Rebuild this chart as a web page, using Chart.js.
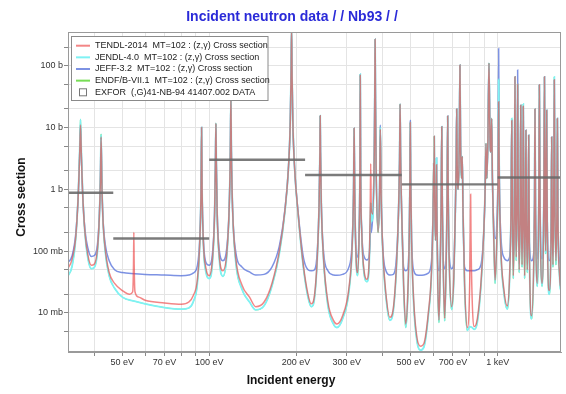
<!DOCTYPE html>
<html>
<head>
<meta charset="utf-8">
<script src="https://cdn.jsdelivr.net/npm/chart.js@4.4.1/dist/chart.umd.min.js"></script>
<style>
    body { margin: 0; background: #fff; }
</style>
</head>
<body>
<canvas id="myChart" width="566" height="394"></canvas>
<script>
// energies in eV, cross sections in barns
const tendl = [
    [31, 0.048], [32.4, 0.053], [33.5, 0.075], [34.5, 0.18], [35.2, 0.9], [35.55, 3.5], [35.8, 11], [36.05, 3.5], [36.4, 0.9], [37.1, 0.2], [38, 0.085], [39, 0.059], [40, 0.062], [41, 0.11], [41.6, 0.35], [41.95, 1.3], [42.2, 7], [42.45, 1.3], [42.8, 0.35], [43.6, 0.11], [45, 0.045], [47, 0.03], [50, 0.023], [53, 0.02], [54.3, 0.022], [54.65, 0.06], [54.8, 0.2], [54.95, 0.06], [55.3, 0.022], [57, 0.018], [60, 0.016], [70, 0.0145], [80, 0.0138], [85, 0.015], [88, 0.019], [91, 0.035], [92.8, 0.15], [93.7, 1.0], [94.1, 10], [94.5, 1.0], [95.4, 0.15], [97.5, 0.052], [100, 0.04], [102.5, 0.07], [104.4, 0.4], [105.1, 2.5], [105.5, 11.6], [105.9, 2.5], [106.6, 0.4], [108.5, 0.08], [111.5, 0.048], [115, 0.09], [117.3, 0.5], [118.4, 4], [118.9, 30], [119.4, 4], [120.5, 0.5], [123.5, 0.08], [130, 0.028], [138, 0.018], [145, 0.0126], [155, 0.015], [165, 0.03], [175, 0.1], [183, 0.45], [188, 2], [191, 12], [192.3, 80], [193, 400], [193.7, 80], [195, 12], [198, 2], [203, 0.45], [212, 0.06], [220, 0.02], [226, 0.014], [232, 0.02], [237, 0.08], [240.5, 0.6], [242, 4], [242.6, 15.5], [243.2, 4], [244.7, 0.6], [249, 0.08], [258, 0.015], [270, 0.0075], [277, 0.0066], [290, 0.009], [305, 0.025], [313, 0.12], [316.5, 0.9], [318, 9.7], [319.5, 0.9], [323, 0.08], [327, 0.045], [331, 0.2], [333, 2], [334, 70], [335, 2], [338, 0.2], [345, 0.045], [352, 0.035], [358, 0.06], [361.5, 0.4], [363, 2.6], [364.5, 0.5], [369, 0.4], [373.5, 4], [375, 40], [376, 268], [377, 40], [378.5, 4], [385, 0.2], [389.5, 0.8], [392, 9.4], [394.5, 0.8], [400, 0.1], [410, 0.02], [423, 0.0085], [435, 0.012], [445, 0.05], [453, 0.4], [457, 3], [459, 24], [461, 3], [465, 0.4], [472, 0.03], [480, 0.0066], [488, 0.02], [494, 0.2], [496.5, 1.5], [498, 12], [499.5, 1.5], [503, 0.15], [512, 0.015], [525, 0.004], [540, 0.0029], [555, 0.0032], [575, 0.01], [590, 0.05], [597, 0.4], [600, 2.7], [601.5, 0.8], [603, 7.2], [605, 0.8], [609, 0.15], [612.5, 0.5], [614, 2.5], [615.5, 0.5], [620, 0.03], [626, 0.0077], [632, 0.05], [637, 0.6], [640, 10.3], [643, 0.6], [648, 0.05], [655, 0.0082], [663, 0.06], [668, 0.8], [671, 15.3], [674, 0.8], [680, 0.06], [693, 0.0126], [705, 0.04], [713, 0.4], [718, 2.5], [721, 20], [724, 2.5], [730, 1], [736, 5], [740, 103], [744, 5], [750, 1.5], [754, 3.4], [758, 0.5], [768, 0.03], [785, 0.0058], [800, 0.03], [804, 0.2], [806, 0.83], [808, 0.2], [815, 0.02], [830, 0.006], [850, 0.008], [875, 0.03], [895, 0.2], [905, 1], [911, 5.5], [917, 1.5], [925, 6], [933, 110], [941, 6], [947, 4], [953, 14], [959, 1.5], [970, 0.15], [980, 0.034], [995, 0.2], [1003, 1.5], [1008, 26], [1013, 1.5], [1025, 0.12], [1050, 0.025], [1080, 0.013], [1100, 0.04], [1113, 0.5], [1119, 13], [1125, 0.5], [1133, 0.04], [1143, 0.8], [1148, 66], [1153, 0.8], [1160, 0.08], [1168, 1], [1173, 50], [1179, 0.6], [1188, 0.05], [1197, 0.6], [1202, 23], [1208, 0.5], [1215, 0.06], [1222, 0.6], [1227, 22], [1233, 0.4], [1240, 0.04], [1248, 0.4], [1253, 9], [1259, 0.3], [1267, 0.05], [1276, 0.4], [1281, 7.5], [1288, 0.12], [1312, 0.009], [1335, 0.08], [1342, 0.6], [1347, 20], [1353, 0.5], [1372, 0.03], [1389, 0.8], [1395, 49], [1402, 0.8], [1425, 0.03], [1446, 0.8], [1453, 66], [1460, 0.6], [1466, 0.1], [1473, 0.6], [1479, 19], [1486, 0.3], [1510, 0.023], [1533, 0.3], [1539, 7], [1546, 0.3], [1555, 0.06], [1565, 0.9], [1572, 59], [1579, 0.8], [1592, 0.07], [1605, 0.5], [1611, 14], [1618, 0.4], [1640, 0.04], [1660, 0.026], [1700, 0.03]
];

const jendl = [
    [31, 0.036], [32.4, 0.04], [33.5, 0.058], [34.5, 0.17], [35.2, 0.95], [35.55, 4], [35.8, 13.5], [36.05, 4], [36.4, 0.95], [37.1, 0.19], [38, 0.075], [39, 0.052], [40, 0.055], [41, 0.1], [41.6, 0.35], [41.95, 1.4], [42.2, 7.8], [42.45, 1.4], [42.8, 0.35], [43.6, 0.1], [45, 0.04], [47, 0.025], [50, 0.018], [55, 0.0155], [60, 0.014], [70, 0.0122], [80, 0.0115], [85, 0.012], [88, 0.015], [91, 0.03], [92.8, 0.14], [93.7, 1.0], [94.1, 10], [94.5, 1.0], [95.4, 0.14], [97.5, 0.045], [100, 0.036], [102.5, 0.06], [104.4, 0.38], [105.1, 2.5], [105.5, 11.6], [105.9, 2.5], [106.6, 0.38], [108.5, 0.07], [111.5, 0.039], [115, 0.08], [117.3, 0.5], [118.4, 4], [118.9, 30], [119.4, 4], [120.5, 0.5], [123.5, 0.07], [130, 0.024], [138, 0.015], [145, 0.0112], [155, 0.013], [165, 0.027], [175, 0.09], [183, 0.43], [188, 2], [191, 12], [192.3, 80], [193, 400], [193.7, 80], [195, 12], [198, 2], [203, 0.43], [212, 0.055], [220, 0.018], [226, 0.0126], [232, 0.018], [237, 0.075], [240.5, 0.6], [242, 4], [242.6, 15.5], [243.2, 4], [244.7, 0.6], [249, 0.075], [258, 0.013], [270, 0.0065], [277, 0.0058], [290, 0.008], [305, 0.022], [313, 0.11], [316.5, 0.9], [318, 9.7], [319.5, 0.9], [323, 0.075], [327, 0.04], [331, 0.2], [333, 2], [334, 73], [335, 2], [338, 0.2], [345, 0.04], [352, 0.032], [358, 0.05], [361.5, 0.25], [363, 0.6], [364.5, 0.3], [369, 0.35], [373.5, 4], [375, 40], [376, 268], [377, 40], [378.5, 4], [385, 0.2], [389.5, 0.8], [392, 10], [394.5, 0.8], [400, 0.09], [410, 0.018], [423, 0.0076], [435, 0.011], [445, 0.045], [453, 0.4], [457, 3], [459, 24], [461, 3], [465, 0.4], [472, 0.027], [480, 0.0058], [488, 0.018], [494, 0.2], [496.5, 1.5], [498, 12], [499.5, 1.5], [503, 0.14], [512, 0.013], [525, 0.0035], [540, 0.0025], [555, 0.0028], [575, 0.009], [590, 0.045], [597, 0.4], [600, 2.7], [601.5, 0.8], [603, 7.2], [605, 0.8], [609, 0.15], [612.5, 0.5], [614, 3.2], [615.5, 0.5], [620, 0.028], [626, 0.007], [632, 0.045], [637, 0.6], [640, 10.3], [643, 0.6], [648, 0.045], [655, 0.0074], [663, 0.055], [668, 0.8], [671, 15.3], [674, 0.8], [680, 0.055], [693, 0.0113], [705, 0.036], [713, 0.4], [718, 2.5], [721, 20], [724, 2.5], [730, 1], [736, 5], [740, 103], [744, 5], [750, 1.5], [754, 3.4], [758, 0.5], [768, 0.027], [785, 0.0052], [800, 0.006], [815, 0.0058], [830, 0.0054], [850, 0.007], [875, 0.027], [895, 0.2], [905, 1], [911, 5.5], [917, 1.5], [925, 6], [933, 110], [941, 6], [947, 4], [953, 14], [959, 1.5], [970, 0.14], [980, 0.03], [995, 0.2], [1003, 1.5], [1008, 60], [1013, 1.5], [1025, 0.11], [1050, 0.022], [1080, 0.0115], [1100, 0.036], [1113, 0.5], [1119, 14], [1125, 0.5], [1133, 0.036], [1143, 0.8], [1148, 66], [1153, 0.8], [1160, 0.07], [1168, 1], [1173, 50], [1179, 0.6], [1188, 0.045], [1197, 0.6], [1202, 23], [1208, 0.5], [1215, 0.055], [1222, 0.6], [1227, 24], [1233, 0.4], [1240, 0.036], [1248, 0.4], [1253, 9], [1259, 0.3], [1267, 0.045], [1276, 0.4], [1281, 7.5], [1288, 0.11], [1312, 0.008], [1335, 0.07], [1342, 0.6], [1347, 20], [1353, 0.5], [1372, 0.027], [1389, 0.8], [1395, 49], [1402, 0.8], [1425, 0.027], [1446, 0.8], [1453, 66], [1460, 0.6], [1466, 0.09], [1473, 0.6], [1479, 19], [1486, 0.3], [1510, 0.02], [1533, 0.3], [1539, 7], [1546, 0.3], [1555, 0.055], [1565, 0.9], [1572, 66], [1579, 0.8], [1592, 0.06], [1605, 0.5], [1611, 14], [1618, 0.4], [1640, 0.036], [1660, 0.023], [1700, 0.027]
];

const jeff = [
    [31, 0.062], [32.4, 0.066], [33.5, 0.085], [34.5, 0.2], [35.2, 0.9], [35.55, 3.5], [35.8, 11], [36.05, 3.5], [36.4, 0.9], [37.1, 0.22], [38, 0.11], [39, 0.082], [40, 0.085], [41, 0.13], [41.6, 0.37], [41.95, 1.3], [42.2, 7], [42.45, 1.3], [42.8, 0.37], [43.6, 0.13], [45, 0.07], [47, 0.05], [50, 0.045], [55, 0.043], [60, 0.042], [70, 0.041], [80, 0.04], [85, 0.041], [88, 0.044], [91, 0.058], [92.8, 0.17], [93.7, 1.0], [94.1, 10], [94.5, 1.0], [95.4, 0.17], [97.5, 0.065], [100, 0.059], [102.5, 0.085], [104.4, 0.42], [105.1, 2.5], [105.5, 11.6], [105.9, 2.5], [106.6, 0.42], [108.5, 0.1], [111.5, 0.07], [115, 0.11], [117.3, 0.5], [118.4, 4], [118.9, 30], [119.4, 4], [120.5, 0.5], [123.5, 0.1], [130, 0.055], [138, 0.046], [145, 0.041], [155, 0.042], [165, 0.055], [175, 0.12], [183, 0.47], [188, 2], [191, 12], [192.3, 80], [193, 400], [193.7, 80], [195, 12], [198, 2], [203, 0.47], [212, 0.08], [220, 0.05], [226, 0.048], [232, 0.05], [237, 0.1], [240.5, 0.6], [242, 4], [242.6, 15.5], [243.2, 4], [244.7, 0.6], [249, 0.1], [258, 0.048], [270, 0.041], [277, 0.0405], [290, 0.042], [305, 0.055], [313, 0.14], [316.5, 0.9], [318, 9.7], [319.5, 0.9], [323, 0.1], [327, 0.08], [331, 0.22], [333, 2], [334, 73], [335, 2], [338, 0.22], [345, 0.08], [352, 0.072], [358, 0.08], [361.5, 0.16], [363, 0.3], [364.5, 0.2], [369, 0.4], [373.5, 4], [375, 40], [376, 268], [377, 40], [378.5, 4], [385, 0.22], [389.5, 0.85], [392, 11], [394.5, 0.85], [400, 0.11], [410, 0.048], [423, 0.041], [435, 0.042], [445, 0.07], [453, 0.4], [457, 3], [459, 24], [461, 3], [465, 0.4], [472, 0.055], [480, 0.048], [488, 0.052], [494, 0.2], [496.5, 1.5], [498, 13], [499.5, 1.5], [503, 0.16], [512, 0.048], [525, 0.041], [540, 0.0405], [555, 0.041], [575, 0.044], [590, 0.07], [597, 0.4], [600, 1], [601.5, 0.6], [603, 3], [605, 0.6], [609, 0.15], [612.5, 0.5], [614, 3.2], [615.5, 0.5], [620, 0.06], [626, 0.048], [632, 0.07], [637, 0.6], [640, 10.3], [643, 0.6], [648, 0.07], [655, 0.052], [663, 0.08], [668, 0.8], [671, 15.3], [674, 0.8], [680, 0.08], [693, 0.052], [705, 0.065], [713, 0.4], [718, 2.5], [721, 20], [724, 2.5], [730, 1], [736, 5], [740, 103], [744, 5], [750, 1.5], [754, 3.4], [758, 0.5], [768, 0.055], [785, 0.048], [800, 0.048], [815, 0.048], [830, 0.048], [850, 0.05], [875, 0.06], [895, 0.2], [905, 1], [911, 5.5], [917, 1.5], [925, 6], [933, 110], [941, 6], [947, 4], [953, 14], [959, 1.5], [970, 0.25], [980, 0.16], [995, 0.35], [1003, 2.5], [1008, 190], [1013, 2.5], [1025, 0.2], [1050, 0.08], [1080, 0.07], [1100, 0.08], [1113, 0.5], [1119, 13], [1125, 0.5], [1133, 0.08], [1143, 0.8], [1148, 66], [1153, 0.8], [1160, 0.1], [1168, 1], [1173, 85], [1179, 0.6], [1188, 0.09], [1197, 0.6], [1202, 23], [1208, 0.5], [1215, 0.09], [1222, 0.6], [1227, 22], [1233, 0.4], [1240, 0.08], [1248, 0.4], [1253, 9], [1259, 0.3], [1267, 0.08], [1276, 0.4], [1281, 7.5], [1288, 0.14], [1312, 0.07], [1335, 0.1], [1342, 0.6], [1347, 20], [1353, 0.5], [1372, 0.075], [1389, 0.8], [1395, 49], [1402, 0.8], [1425, 0.075], [1446, 0.8], [1453, 66], [1460, 0.6], [1466, 0.14], [1473, 0.6], [1479, 19], [1486, 0.3], [1510, 0.07], [1533, 0.3], [1539, 7], [1546, 0.3], [1555, 0.09], [1565, 0.9], [1572, 59], [1579, 0.8], [1592, 0.1], [1605, 0.5], [1611, 14], [1618, 0.4], [1640, 0.07], [1660, 0.06], [1700, 0.06]
];

// ENDF/B-VII.1 is hidden under JENDL-4.0 in the picture
const endf = jendl;

// EXFOR bins
const exforLo = [30, 46.5, 100, 215, 465, 1000];
const exforHi = [46.5, 100, 215, 465, 1000, 2150];
const exforXs = [0.88, 0.16, 3.0, 1.7, 1.2, 1.55];

const chartTitle = "Incident neutron data / / Nb93 / /";
const xTitle = "Incident energy";
const yTitle = "Cross section";
const seriesNames = [
    "TENDL-2014  MT=102 : (z,\u03b3) Cross section",
    "JENDL-4.0  MT=102 : (z,\u03b3) Cross section",
    "JEFF-3.2  MT=102 : (z,\u03b3) Cross section",
    "ENDF/B-VII.1  MT=102 : (z,\u03b3) Cross section"
];
const exforName = "EXFOR  (,G)41-NB-94 41407.002 DATA";
const seriesColors = ["rgba(235,60,60,0.62)", "#7ff2f4", "rgba(70,100,215,0.7)", "#77dd55"];

const xTickValues = [50, 70, 100, 200, 300, 500, 700, 1000];
const xTickLabels = ["50 eV", "70 eV", "100 eV", "200 eV", "300 eV", "500 eV", "700 eV", "1 keV"];
const xGridValues = [40, 50, 60, 70, 80, 90, 100, 200, 300, 400, 500, 600, 700, 800, 900, 1000];
const yTickValues = [0.01, 0.1, 1, 10, 100];
const yTickLabels = ["10 mb", "100 mb", "1 b", "10 b", "100 b"];
const yGridValues = [0.005, 0.01, 0.02, 0.05, 0.1, 0.2, 0.5, 1, 2, 5, 10, 20, 50, 100, 200];

function toPoints(pairs) {
    return pairs.map((p) => ({ x: p[0], y: p[1] }));
}

let exforPoints = [];
exforLo.forEach((lo, i) => {
    exforPoints.push({ x: lo, y: exforXs[i] });
    exforPoints.push({ x: exforHi[i], y: exforXs[i] });
    exforPoints.push({ x: exforHi[i], y: null });
});

const FONT = "'Liberation Sans', Arial, sans-serif";

// frame, legend box and the titles
const decorations = {
    id: "decorations",
    afterDatasetsDraw(chart) {
        const ctx = chart.ctx;
        const a = chart.chartArea;
        ctx.save();
        ctx.strokeStyle = "#9a9a9a";
        ctx.lineWidth = 1;
        ctx.strokeRect(a.left + 0.5, a.top + 0.5, a.right - a.left - 1, a.bottom - a.top - 1);

        ctx.fillStyle = "#fff";
        ctx.fillRect(71.5, 36.5, 196.5, 64);
        ctx.strokeStyle = "#8a8a8a";
        ctx.strokeRect(71.5, 36.5, 196.5, 64);
        ctx.font = "9px " + FONT;
        ctx.textBaseline = "middle";
        ctx.textAlign = "left";
        seriesNames.forEach((name, i) => {
            const y = 45.7 + i * 11.65;
            ctx.strokeStyle = seriesColors[i];
            ctx.lineWidth = 2;
            ctx.beginPath();
            ctx.moveTo(76, y);
            ctx.lineTo(90, y);
            ctx.stroke();
            ctx.fillStyle = "#222";
            ctx.fillText(name, 95, y);
        });
        const ey = 45.7 + 4 * 11.65;
        ctx.strokeStyle = "#777";
        ctx.lineWidth = 1;
        ctx.strokeRect(79.5, ey - 3.5, 7, 7);
        ctx.fillText(exforName, 95, ey);

        ctx.textAlign = "center";
        ctx.fillStyle = "#2a2ad8";
        ctx.font = "bold 14px " + FONT;
        ctx.fillText(chartTitle, 292, 17);

        ctx.fillStyle = "#111";
        ctx.font = "bold 12px " + FONT;
        ctx.fillText(xTitle, 291, 381);
        ctx.translate(22, 197);
        ctx.rotate(-Math.PI / 2);
        ctx.fillText(yTitle, 0, 0);
        ctx.restore();
    },
};

Chart.defaults.font.family = FONT;

const lineStyle = {
    pointRadius: 0,
    borderWidth: 1.5,
    fill: false,
    cubicInterpolationMode: "monotone",
};

const ctx = document.getElementById("myChart");
new Chart(ctx, {
    type: "line",
    data: {
        datasets: [
            { label: exforName, data: exforPoints, borderColor: "rgba(105,105,105,0.88)", borderWidth: 2.4, pointRadius: 0, spanGaps: false, order: 0 },
            { label: seriesNames[0], data: toPoints(tendl), borderColor: seriesColors[0], order: 1, ...lineStyle },
            { label: seriesNames[1], data: toPoints(jendl), borderColor: seriesColors[1], order: 2, ...lineStyle, borderWidth: 1.8 },
            { label: seriesNames[2], data: toPoints(jeff), borderColor: seriesColors[2], order: 3, ...lineStyle },
            { label: seriesNames[3], data: toPoints(endf), borderColor: seriesColors[3], order: 4, ...lineStyle, borderWidth: 0.8 },
        ],
    },
    options: {
        responsive: false,
        animation: false,
        layout: { padding: { left: 0, right: 5, top: 32, bottom: 0 } },
        plugins: {
            legend: { display: false },
            tooltip: { enabled: false },
        },
        scales: {
            x: {
                type: "logarithmic",
                min: 32.4,
                max: 1658,
                afterBuildTicks: (s) => { s.ticks = xGridValues.map((v) => ({ value: v })); },
                afterFit: (s) => { s.height = 42; },
                ticks: {
                    autoSkip: false,
                    maxRotation: 0,
                    padding: 1,
                    color: "#333",
                    font: { size: 9 },
                    callback: (v) => {
                        const i = xTickValues.indexOf(v);
                        return i >= 0 ? xTickLabels[i] : "";
                    },
                },
                grid: { color: "#e4e4e4", tickColor: "#888", tickLength: 4 },
                border: { color: "#9a9a9a" },
            },
            y: {
                type: "logarithmic",
                min: 0.00233,
                max: 351,
                afterBuildTicks: (s) => { s.ticks = yGridValues.map((v) => ({ value: v })); },
                afterFit: (s) => { s.width = 68; },
                ticks: {
                    autoSkip: false,
                    padding: 1,
                    color: "#333",
                    font: { size: 9 },
                    callback: (v) => {
                        const i = yTickValues.indexOf(v);
                        return i >= 0 ? yTickLabels[i] : "";
                    },
                },
                grid: { color: "#e4e4e4", tickColor: "#888", tickLength: 4 },
                border: { color: "#9a9a9a" },
            },
        },
    },
    plugins: [decorations],
});
</script>
</body>
</html>
